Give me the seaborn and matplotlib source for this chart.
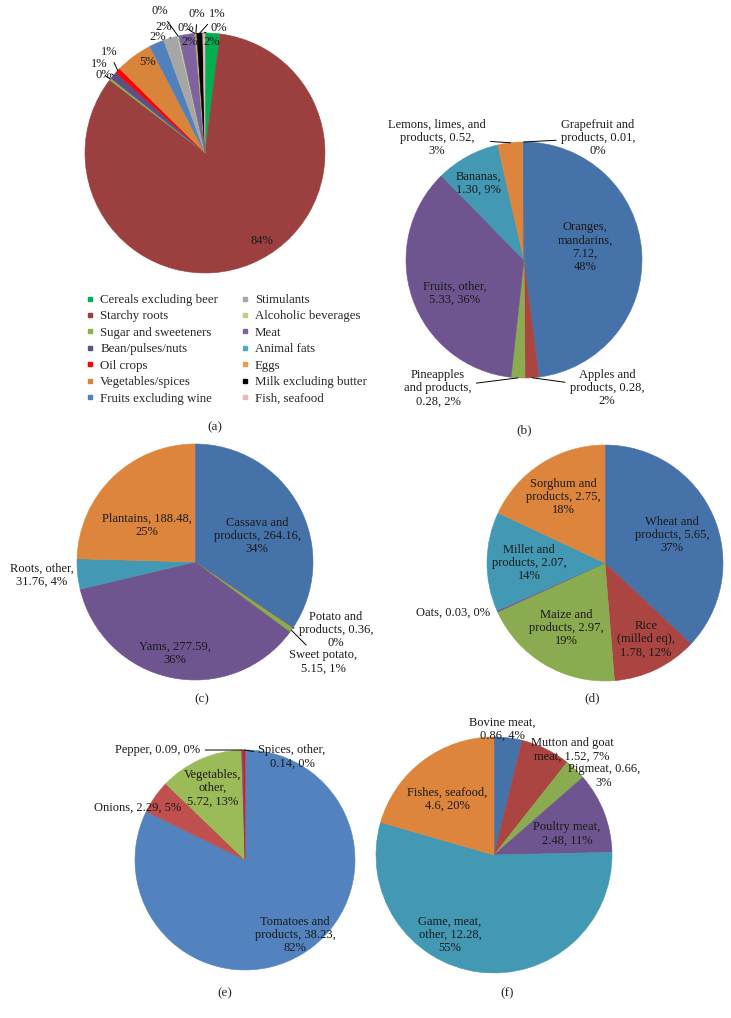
import numpy as np
import matplotlib
matplotlib.use("Agg")
import matplotlib.pyplot as plt
from matplotlib.lines import Line2D
import seaborn as sns

sns.set_theme(style="white")
plt.rcParams['font.family'] = ['Liberation Serif', 'DejaVu Serif']

W, H = 731, 1018
FS = 9

# ---------------- data ----------------
# (a) food groups, share of supply (%)
a_names = ["Cereals excluding beer", "Starchy roots", "Sugar and sweeteners",
           "Bean/pulses/nuts", "Oil crops", "Vegetables/spices", "Fruits excluding wine",
           "Stimulants", "Alcoholic beverages", "Meat", "Animal fats", "Eggs",
           "Milk excluding butter", "Fish, seafood"]
a_values = [2.0, 83.4, 0.3, 1.0, 0.7, 5.0, 2.0, 1.9, 0.2, 2.1, 0.1, 0.2, 0.8, 0.3]
a_pct = ["2%", "84%", "0%", "1%", "1%", "5%", "2%", "2%", "0%", "2%", "0%", "0%", "1%", "0%"]
a_colors = ["#00b050", "#9b403e", "#8ab04a", "#5f4d85", "#ff0000", "#d8843b", "#4f81bd",
            "#a6a6a6", "#b8cf85", "#7f63a1", "#4bacc6", "#f79646", "#000000", "#e6b9b8"]

# (b) fruits
b_values = [7.12, 0.28, 0.28, 5.33, 1.30, 0.52, 0.01]
b_pct = ["48%", "2%", "2%", "36%", "9%", "3%", "0%"]
b_text = ["Oranges,\nmandarins,\n{v:.2f},\n{p}", "Apples and\nproducts, {v:.2f},\n{p}",
          "Pineapples\nand products,\n{v:.2f}, {p}", "Fruits, other,\n{v:.2f}, {p}",
          "Bananas,\n{v:.2f}, {p}", "Lemons, limes, and\nproducts, {v:.2f},\n{p}",
          "Grapefruit and\nproducts, {v:.2f},\n{p}"]

# (c) starchy roots
c_values = [264.16, 0.36, 5.15, 277.59, 31.76, 188.48]
c_pct = ["34%", "0%", "1%", "36%", "4%", "25%"]
c_text = ["Cassava and\nproducts, {v:.2f},\n{p}", "Potato and\nproducts, {v:.2f},\n{p}",
          "Sweet potato,\n{v:.2f}, {p}", "Yams, {v:.2f},\n{p}",
          "Roots, other,\n{v:.2f}, {p}", "Plantains, {v:.2f},\n{p}"]

# (d) cereals
d_values = [5.65, 1.78, 2.97, 0.03, 2.07, 2.75]
d_pct = ["37%", "12%", "19%", "0%", "14%", "18%"]
d_text = ["Wheat and\nproducts, {v:.2f},\n{p}", "Rice\n(milled eq),\n{v:.2f}, {p}",
          "Maize and\nproducts, {v:.2f},\n{p}", "Oats, {v:.2f}, {p}",
          "Millet and\nproducts, {v:.2f},\n{p}", "Sorghum and\nproducts, {v:.2f},\n{p}"]

# (e) vegetables
e_values = [38.23, 2.29, 5.72, 0.09, 0.14]
e_pct = ["82%", "5%", "13%", "0%", "0%"]
e_text = ["Tomatoes and\nproducts, {v:.2f},\n{p}", "Onions, {v:.2f}, {p}",
          "Vegetables,\nother,\n{v:.2f}, {p}", "Pepper, {v:.2f}, {p}",
          "Spices, other,\n{v:.2f}, {p}"]

# (f) meat and fish
f_values = [0.86, 1.52, 0.66, 2.48, 12.28, 4.6]
f_pct = ["4%", "7%", "3%", "11%", "55%", "20%"]
f_text = ["Bovine meat,\n{v:.2f}, {p}", "Mutton and goat\nmeat, {v:.2f}, {p}",
          "Pigmeat, {v:.2f},\n{p}", "Poultry meat,\n{v:.2f}, {p}",
          "Game, meat,\nother, {v:.2f},\n{p}", "Fishes, seafood,\n{v:.1f}, {p}"]

blue, red, green, purple, teal, orange = "#4672aa", "#aa4542", "#8aab4f", "#6f5590", "#4399b3", "#dd853c"
six = [blue, red, green, purple, teal, orange]

# ---------------- layout (image pixels) ----------------
# pie centre x, y and radius
pies = {
    "a": (205, 153, 120),
    "b": (524, 260, 118),
    "c": (195, 562, 118),
    "d": (605, 563, 118),
    "e": (245, 860, 110),
    "f": (494, 855, 118),
}
# label position per slice, leader flag
a_pos = [(212, 42, 0), (262, 241, 0), (104, 75, 1), (99, 64, 1), (109, 52, 1), (148, 62, 0),
         (158, 37, 0), (164, 27, 1), (160, 11, 1), (190, 42, 0), (186, 28, 1), (197, 14, 1),
         (217, 14, 1), (219, 28, 1)]
b_pos = [(585, 247, 0), (607, 388, 1), (438, 388, 1), (455, 293, 0), (478, 183, 0),
         (437, 138, 1), (598, 138, 1)]
c_pos = [(257, 536, 0), (336, 630, 1), (323, 662, 1), (175, 653, 0), (42, 575, 0), (147, 525, 0)]
d_pos = [(672, 535, 0), (646, 639, 0), (566, 628, 0), (453, 613, 0), (529, 563, 0), (563, 497, 0)]
e_pos = [(295, 935, 0), (138, 808, 0), (213, 788, 0), (158, 750, 1), (292, 757, 1)]
f_pos = [(502, 729, 0), (572, 750, 0), (604, 776, 0), (567, 834, 0), (450, 935, 0), (447, 799, 0)]
captions = {"a": (215, 427), "b": (524, 430), "c": (202, 699), "d": (592, 698),
            "e": (225, 993), "f": (507, 993)}

fig = plt.figure(figsize=(W / 100, H / 100), dpi=100)
ax = fig.add_axes([0, 0, 1, 1])


def draw_pie(key, values, colors):
    cx, cy, r = pies[key]
    wedges, _ = ax.pie(values, colors=colors, startangle=90, counterclock=False,
                       center=(cx, H - cy), radius=r, frame=True,
                       wedgeprops=dict(linewidth=0.4))
    # close the anti-aliasing seams between slices
    for w in wedges:
        w.set_edgecolor(w.get_facecolor())
    return wedges


def edge_point(w):
    th = np.deg2rad(0.5 * (w.theta1 + w.theta2))
    return (w.center[0] + w.r * np.cos(th), w.center[1] + w.r * np.sin(th))


def put_labels(wedges, texts, pos):
    for w, t, (x, y, lead) in zip(wedges, texts, pos):
        kw = dict(ha="center", va="center", fontsize=FS, linespacing=1.15, color="#1a1a1a")
        if lead:
            ax.annotate(t, xy=edge_point(w), xytext=(x, H - y),
                        arrowprops=dict(arrowstyle="-", lw=0.7, color="black",
                                        shrinkA=1, shrinkB=0), **kw)
        else:
            ax.text(x, H - y, t, **kw)


wa = draw_pie("a", a_values, a_colors)
put_labels(wa, a_pct, a_pos)

for key, vals, pct, txt, pos, cols in [
        ("b", b_values, b_pct, b_text, b_pos, six + [blue]),
        ("c", c_values, c_pct, c_text, c_pos, six),
        ("d", d_values, d_pct, d_text, d_pos, six),
        ("e", e_values, e_pct, e_text, e_pos, ["#5283be", "#c0504d", "#9bbb59", purple, "#e01818"]),
        ("f", f_values, f_pct, f_text, f_pos, six)]:
    ws = draw_pie(key, vals, cols)
    labels = [t.format(v=v, p=p) for t, v, p in zip(txt, vals, pct)]
    put_labels(ws, labels, pos)

for key, (x, y) in captions.items():
    ax.text(x, H - y, f"({key})", ha="center", va="center", fontsize=FS + 0.5)

handles = [Line2D([], [], marker="s", linestyle="", markersize=3, color=c) for c in a_colors]
ax.legend(handles, a_names, ncol=2, loc="upper left", frameon=False,
          bbox_to_anchor=(86 / W, 1 - 294 / H), bbox_transform=ax.transAxes,
          fontsize=FS + 0.3, handlelength=0.6, handletextpad=0.5, columnspacing=1.75,
          labelspacing=0.34, borderpad=0, borderaxespad=0)

ax.set_xlim(0, W)
ax.set_ylim(0, H)
ax.set_aspect("equal")
ax.axis("off")

fig.savefig("out.png", dpi=100)
